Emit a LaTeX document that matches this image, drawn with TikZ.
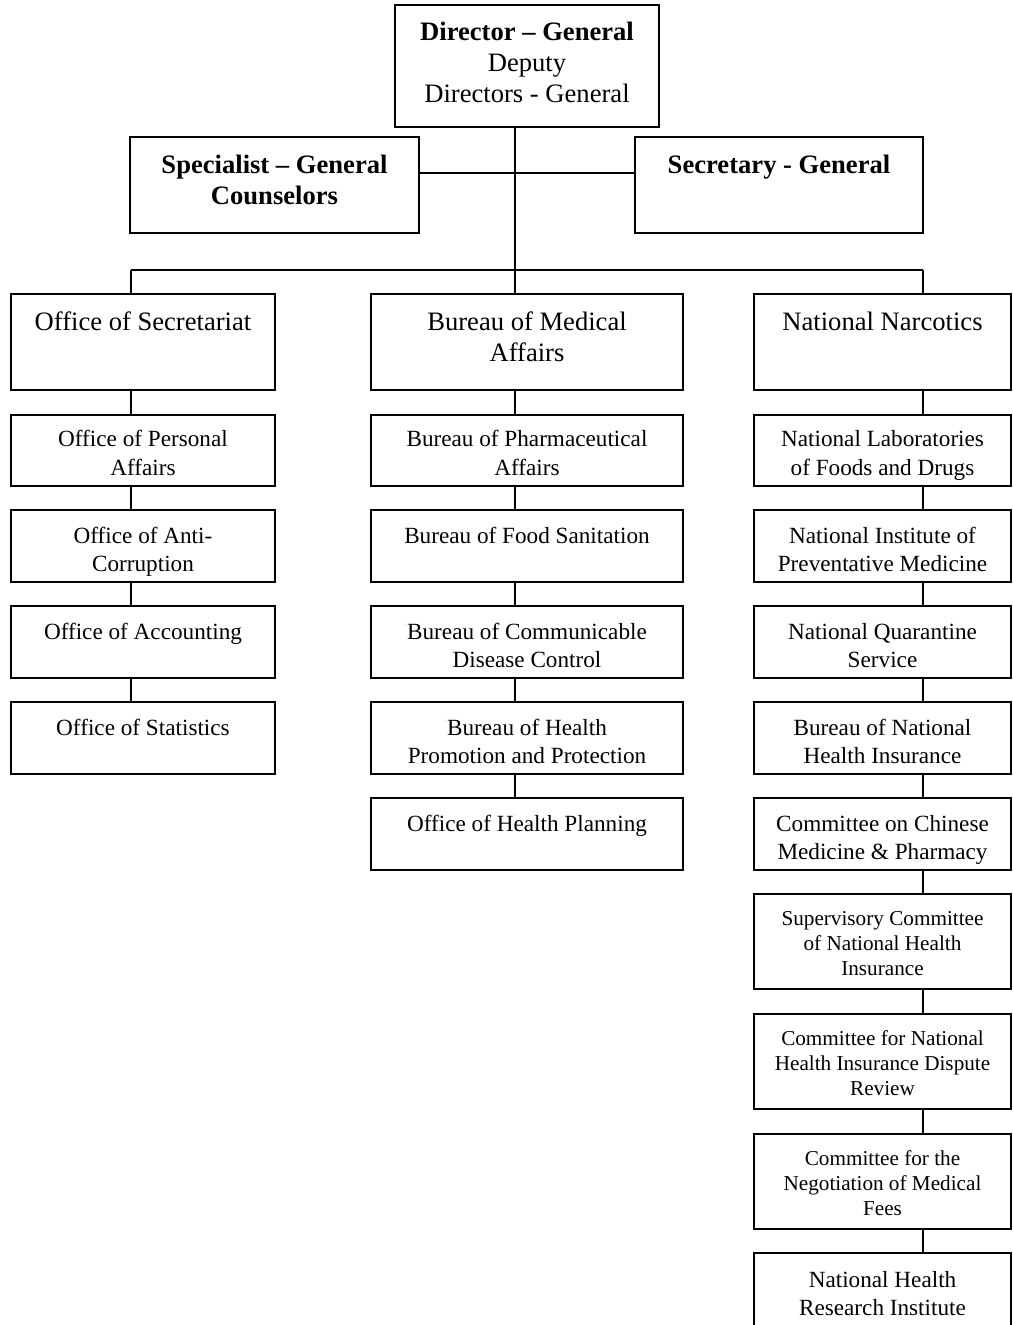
\documentclass[tikz,border=0pt]{standalone}
\usepackage{fontspec}
\setmainfont{Liberation Serif}
\usetikzlibrary{fit}

% type sizes used in the chart
\newcommand\bigtype{\fontsize{13.3}{15.5}\selectfont}
\newcommand\medtype{\fontsize{11.6}{14}\selectfont}
\newcommand\smalltype{\fontsize{10.6}{12.5}\selectfont}

% #1 name, #2..#5 corners (x1,y1,x2,y2), #6 baseline of first line, #7 type size, #8 text
\newcommand\orgbox[8]{%
  \node[unitbox, fit={(#2,#3)(#4,#5)}] (#1) {};
  \node[unitlabel] (#1-t) at ({(#2+#4)/2},#6+2)
    {\parbox[t]{\dimexpr #4pt/2-#2pt/2\relax}{\centering #7 #8}};
}

\begin{document}
\begin{tikzpicture}[x=0.5pt,y=-0.5pt,
  unitbox/.style={draw, line width=1pt, inner sep=0pt},
  unitlabel/.style={anchor=base, inner sep=0pt},
  link/.style={line width=1pt}]
\useasboundingbox (0,0) rectangle (1012,1325);

% leadership
\orgbox{dg}{395}{5}{659}{127}{39}{\bigtype}{\textbf{Director – General}\\Deputy\\Directors - General}
\orgbox{spec}{130}{137}{419}{233}{172}{\bigtype}{\textbf{Specialist – General}\\\textbf{Counselors}}
\orgbox{sec}{635}{137}{923}{233}{172}{\bigtype}{\textbf{Secretary - General}}

% left column
\orgbox{os}{11}{294}{275}{390}{329}{\bigtype}{Office of Secretariat}
\orgbox{pa}{11}{415}{275}{486}{445}{\medtype}{Office of Personal\\Affairs}
\orgbox{ac}{11}{510}{275}{582}{541}{\medtype}{Office of Anti-\\Corruption}
\orgbox{acc}{11}{606}{275}{678}{637}{\medtype}{Office of Accounting}
\orgbox{st}{11}{702}{275}{774}{733}{\medtype}{Office of Statistics}

% middle column
\orgbox{bma}{371}{294}{683}{390}{329}{\bigtype}{Bureau of Medical\\Affairs}
\orgbox{bpa}{371}{415}{683}{486}{445}{\medtype}{Bureau of Pharmaceutical\\Affairs}
\orgbox{bfs}{371}{510}{683}{582}{541}{\medtype}{Bureau of Food Sanitation}
\orgbox{bcd}{371}{606}{683}{678}{637}{\medtype}{Bureau of Communicable\\Disease Control}
\orgbox{bhp}{371}{702}{683}{774}{733}{\medtype}{Bureau of Health\\Promotion and Protection}
\orgbox{ohp}{371}{798}{683}{870}{829}{\medtype}{Office of Health Planning}

% right column
\orgbox{nn}{754}{294}{1011}{390}{329}{\bigtype}{National Narcotics}
\orgbox{nlf}{754}{415}{1011}{486}{445}{\medtype}{National Laboratories\\of Foods and Drugs}
\orgbox{nip}{754}{510}{1011}{582}{541}{\medtype}{National Institute of\\Preventative Medicine}
\orgbox{nqs}{754}{606}{1011}{678}{637}{\medtype}{National Quarantine\\Service}
\orgbox{bnhi}{754}{702}{1011}{774}{733}{\medtype}{Bureau of National\\Health Insurance}
\orgbox{ccm}{754}{798}{1011}{870}{829}{\medtype}{Committee on Chinese\\Medicine \& Pharmacy}
\orgbox{scn}{754}{894}{1011}{989}{923}{\smalltype}{Supervisory Committee\\of National Health\\Insurance}
\orgbox{cnh}{754}{1014}{1011}{1109}{1043}{\smalltype}{Committee for National\\Health Insurance Dispute\\Review}
\orgbox{cnm}{754}{1134}{1011}{1229}{1163}{\smalltype}{Committee for the\\Negotiation of Medical\\Fees}
\orgbox{nhr}{754}{1253}{1011}{1345}{1285}{\medtype}{National Health\\Research Institute}

% junction points
\coordinate (staff) at (515,173);
\coordinate (bus) at (515,270);
\coordinate (colL) at (131,270);
\coordinate (colR) at (923,270);

% trunk and staff line
\draw[link] (dg.south -| bus) -- (bus);
\draw[link] (spec.east |- staff) -- (sec.west |- staff);
\draw[link] (colL) -- (colR);

% drops to the three columns
\draw[link] (colL) -- (colL |- os.north);
\draw[link] (bus) -- (bus |- bma.north);
\draw[link] (colR) -- (colR |- nn.north);

% left chain
\foreach \a/\b in {os/pa, pa/ac, ac/acc, acc/st}
  \draw[link] (colL |- \a.south) -- (colL |- \b.north);
% middle chain
\foreach \a/\b in {bma/bpa, bpa/bfs, bfs/bcd, bcd/bhp, bhp/ohp}
  \draw[link] (bus |- \a.south) -- (bus |- \b.north);
% right chain
\foreach \a/\b in {nn/nlf, nlf/nip, nip/nqs, nqs/bnhi, bnhi/ccm, ccm/scn, scn/cnh, cnh/cnm, cnm/nhr}
  \draw[link] (colR |- \a.south) -- (colR |- \b.north);
\end{tikzpicture}
\end{document}
